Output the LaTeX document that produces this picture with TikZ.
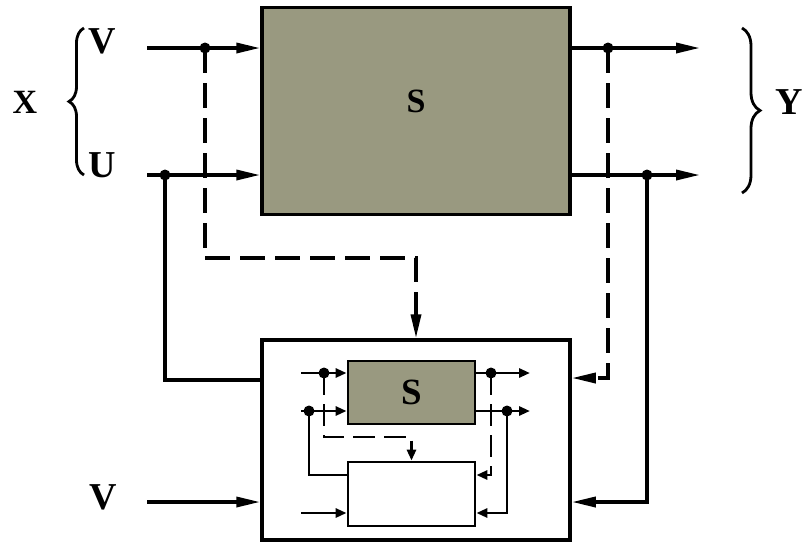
\documentclass[tikz,border=0pt]{standalone}
\usepackage{fontspec}
\setmainfont{Liberation Serif}
\usepackage{tikz}
\usetikzlibrary{arrows.meta,calc,decorations.pathreplacing}

\begin{document}
\begin{tikzpicture}[
  x=1pt, y=-1pt,
  line width=3.5pt,
  plantbox/.style={draw=black, fill=pgray, line width=3.5pt, inner sep=0pt},
  modelbox/.style={draw=black, fill=white, line width=3.5pt, inner sep=0pt},
  arr/.style={-{Triangle[length=24pt,width=10pt]}, line width=3.5pt},
  iarr/.style={-{Triangle[length=11pt,width=9pt]}, line width=2.8pt},
  dline/.style={dash pattern=on 25pt off 10pt},
  idline/.style={dash pattern=on 22pt off 9pt},
  jdot/.style={circle, fill=black, inner sep=0pt, minimum size=11pt},
  brc/.style={decorate, decoration={brace, amplitude=15pt}, line width=2.8pt},
  lbl/.style={font=\fontsize{38}{40}\selectfont\bfseries},
  xlbl/.style={font=\fontsize{34}{36}\selectfont\bfseries},
  slbl/.style={font=\fontsize{34}{36}\selectfont\bfseries},
  islbl/.style={font=\fontsize{37}{39}\selectfont\bfseries}
]
\definecolor{pgray}{RGB}{153,153,128}
\useasboundingbox (0,0) rectangle (806,550);

% plant and model
\node[plantbox, minimum width=308pt, minimum height=207pt] (plant) at (416,111) {};
\node[slbl] (plantlbl) at (416,101) {S};
\node[modelbox, minimum width=308pt, minimum height=200pt] (model) at (416,440) {};
\node[plantbox, islbl, line width=2.8pt, minimum width=127pt, minimum height=63pt] (iplant) at (411.5,392.5) {S};
\node[modelbox, line width=2.8pt, minimum width=127pt, minimum height=64pt] (imodel) at (411.5,494) {};

% signals
\coordinate (vin) at (147,48);
\coordinate (uin) at (147,175);
\coordinate (vlow) at (147,502);
\node[jdot] (vdot) at (205,48) {};
\node[jdot] (udot) at (165,175) {};
\node[jdot] (ydot1) at (608,48) {};
\node[jdot] (ydot2) at (647,175) {};
\coordinate (yout1) at (700,48);
\coordinate (yout2) at (700,175);

\node[lbl] (vlab) at (102,41) {V};
\node[lbl] (ulab) at (102,165) {U};
\node[lbl] (vlowlab) at (103,497) {V};
\node[xlbl] (xlab) at (25,102) {X};
\node[lbl] (ylab) at (789,102) {Y};
\draw[brc] (84,175) -- (84,28);
\draw[brc, decoration={amplitude=18pt}] (742,28) -- (742,193);

\draw[arr] (vin) -- (vin -| plant.west);
\draw[arr] (uin) -- (uin -| plant.west);
\draw[arr] (plant.east |- yout1) -- (yout1);
\draw[arr] (plant.east |- yout2) -- (yout2);
\draw[arr, dline] (vdot.center) -- (205,258) -| (model.north);
\draw[arr, dline] (ydot1.center) |- ([yshift=62pt]model.east);
\draw[arr] (ydot2.center) |- ([yshift=-62pt]model.east);
\draw (udot.center) |- ([yshift=60pt]model.west);
\draw[arr] (vlow) -- ([yshift=-62pt]model.west);

% inside the model
\coordinate (a1) at (301,373);
\coordinate (a2) at (301,411);
\coordinate (a3) at (301,513);
\node[jdot] (d1) at (324,373) {};
\node[jdot] (d2) at (309,411) {};
\node[jdot] (e1) at (491,373) {};
\node[jdot] (e2) at (507,411) {};
\coordinate (o1) at (530,373);
\coordinate (o2) at (530,411);

\draw[iarr] (a1) -- (a1 -| iplant.west);
\draw[iarr] (a2) -- (a2 -| iplant.west);
\draw[iarr] (a3) -- (a3 -| imodel.west);
\draw[iarr] (iplant.east |- o1) -- (o1);
\draw[iarr] (iplant.east |- o2) -- (o2);
\draw[iarr, idline] (d1.center) -- (324,437) -| (imodel.north);
\draw[line width=2.8pt] (d2.center) |- ([yshift=19pt]imodel.west);
\draw[iarr, idline] (e1.center) |- ([yshift=19pt]imodel.east);
\draw[iarr] (e2.center) |- ([yshift=-19pt]imodel.east);
\end{tikzpicture}
\end{document}
